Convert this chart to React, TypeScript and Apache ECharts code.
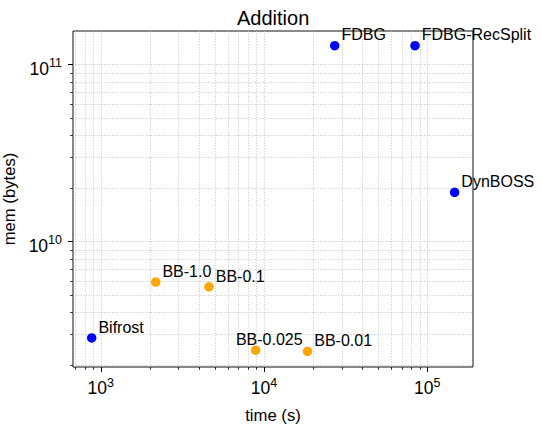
import React, { useEffect, useRef } from 'react';
import * as echarts from 'echarts';

// ---- data ----
const toolNames = ['Bifrost', 'BB-1.0', 'BB-0.1', 'BB-0.025', 'BB-0.01', 'FDBG', 'FDBG-RecSplit', 'DynBOSS'];
const timeSeconds = [880, 2170, 4600, 8890, 18450, 27100, 84100, 147000];
const memBytes = [2.86e9, 5.92e9, 5.56e9, 2.44e9, 2.4e9, 1.28e11, 1.28e11, 1.9e10];
const toolGroup = ['other', 'bb', 'bb', 'bb', 'bb', 'other', 'other', 'other'];

const xMajorTicks = [1e3, 1e4, 1e5];
const xMinorTicks = [700, 800, 900, 2000, 3000, 4000, 5000, 6000, 7000, 8000, 9000,
  20000, 30000, 40000, 50000, 60000, 70000, 80000, 90000];
const yMajorTicks = [1e10, 1e11];
const yMinorTicks = [2e9, 3e9, 4e9, 5e9, 6e9, 7e9, 8e9, 9e9,
  2e10, 3e10, 4e10, 5e10, 6e10, 7e10, 8e10, 9e10];

const X_MIN = 676;
const X_MAX = 190500;
const Y_MIN = 1.96e9;
const Y_MAX = 1.55e11;

const FONT = 'Liberation Sans, Arial, Helvetica, sans-serif';
const groupColor: Record<string, string> = { other: '#0000ff', bb: '#ffa500' };
// annotation placement (px offsets from the marker box), a style setting
const labelShift: Record<string, number[]> = { 'BB-0.025': [-15, 2] };
const defaultShift = [11.5, 2];

const gridLine = { show: true, lineStyle: { color: '#b8b8b8', width: 0.8, type: [1, 1.6] as any } };

const powRich = {
  b: { fontSize: 17.5, lineHeight: 24, fontFamily: FONT, color: '#000' },
  s: { fontSize: 12.5, lineHeight: 7, verticalAlign: 'top', fontFamily: FONT, color: '#000' },
};
const powFormatter = (v: number) => {
  const e = Math.round(Math.log10(v));
  return '{b|10}{s|' + e + '}';
};

export default function App() {
  const ref = useRef<HTMLDivElement>(null);
  useEffect(() => {
    if (!ref.current) return;
    const chart = echarts.init(ref.current, undefined, { renderer: 'svg' });
    const baseLabel = {
      show: true,
      formatter: '{b}',
      align: 'left',
      verticalAlign: 'bottom',
      fontSize: 16,
      fontFamily: FONT,
      color: '#000',
    };
    const mk = (g: string) =>
      toolNames
        .map((n, i) => ({ n, i }))
        .filter(({ i }) => toolGroup[i] === g)
        .map(({ n, i }) => ({
          name: n,
          value: [timeSeconds[i], memBytes[i]],
          label: { ...baseLabel, position: (labelShift[n] || defaultShift) as any },
        }));
    chart.setOption({
      animation: false,
      backgroundColor: '#fff',
      title: {
        text: 'Addition',
        left: 232,
        top: 3,
        textStyle: { fontSize: 20, fontWeight: 'normal', fontFamily: FONT, color: '#000' },
      },
      grid: {
        left: 73, top: 31, width: 400, height: 336, show: true,
        borderColor: '#111', borderWidth: 1, backgroundColor: 'transparent',
        outerBoundsMode: 'none', containLabel: false,
      },
      xAxis: [
        {
          type: 'log', logBase: 10, min: X_MIN, max: X_MAX, position: 'bottom',
          axisLine: { show: false },
          axisTick: { show: true, customValues: xMajorTicks, length: 5, lineStyle: { color: '#000', width: 1 } },
          axisLabel: { customValues: xMajorTicks, formatter: powFormatter, rich: powRich, margin: 9 },
          splitLine: gridLine,
          name: 'time (s)', nameLocation: 'middle', nameGap: 40,
          nameTextStyle: { fontSize: 16.7, fontFamily: FONT, color: '#000' },
        },
        {
          type: 'log', logBase: 10, min: X_MIN, max: X_MAX, position: 'bottom', offset: 0,
          axisLine: { show: false },
          axisTick: { show: true, customValues: xMinorTicks, length: 2.8, lineStyle: { color: '#000', width: 0.8 } },
          axisLabel: { show: false },
          splitLine: gridLine,
        },
      ],
      yAxis: [
        {
          type: 'log', logBase: 10, min: Y_MIN, max: Y_MAX, position: 'left',
          axisLine: { show: false },
          axisTick: { show: true, customValues: yMajorTicks, length: 5, lineStyle: { color: '#000', width: 1 } },
          axisLabel: { customValues: yMajorTicks, formatter: powFormatter, rich: powRich, margin: 11, padding: [8, 0, 0, 0] },
          splitLine: gridLine,
          name: 'mem (bytes)', nameLocation: 'middle', nameGap: 37,
          nameTextStyle: { fontSize: 16.7, fontFamily: FONT, color: '#000' },
        },
        {
          type: 'log', logBase: 10, min: Y_MIN, max: Y_MAX, position: 'left', offset: 0,
          axisLine: { show: false },
          axisTick: { show: true, customValues: yMinorTicks, length: 2.8, lineStyle: { color: '#000', width: 0.8 } },
          axisLabel: { show: false },
          splitLine: gridLine,
        },
      ],
      series: [
        {
          type: 'scatter', xAxisIndex: 0, yAxisIndex: 0, symbolSize: 9.5,
          itemStyle: { color: groupColor.other, opacity: 1 }, data: mk('other'), z: 5,
        },
        {
          type: 'scatter', xAxisIndex: 0, yAxisIndex: 0, symbolSize: 9.5,
          itemStyle: { color: groupColor.bb, opacity: 1 }, data: mk('bb'), z: 5,
        },
      ],
    });
    return () => chart.dispose();
  }, []);
  return <div ref={ref} style={{ position: 'fixed', left: 0, top: 0, width: 541, height: 424 }} />;
}
